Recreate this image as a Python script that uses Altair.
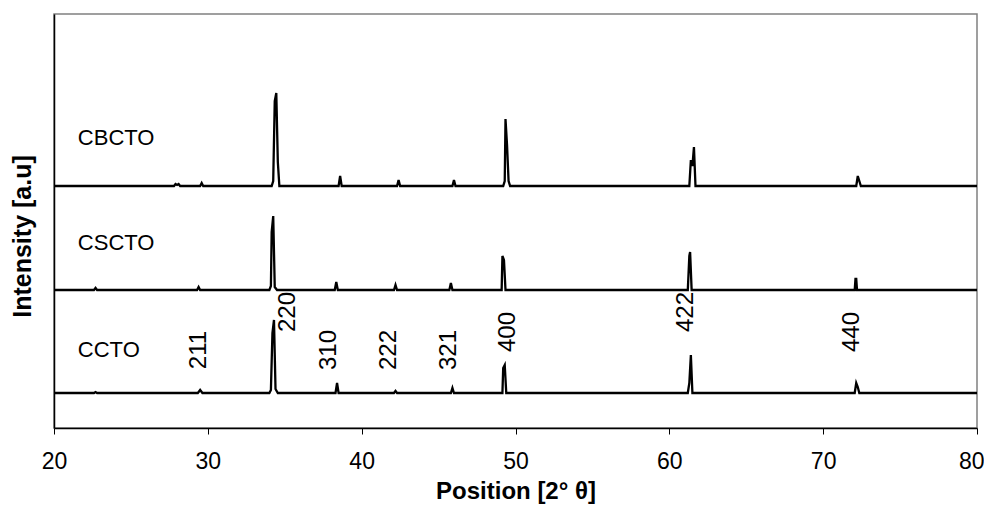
import altair as alt
import pandas as pd

# ---- data ----
series_names = ["CCTO", "CSCTO", "CBCTO"]

ccto_x = [20, 22.6, 22.7, 22.8, 29.35, 29.5, 29.65, 34.0, 34.1, 34.2, 34.3, 34.4, 34.55,
          38.3, 38.4, 38.5, 42.1, 42.2, 42.3, 45.8, 45.9, 46.0,
          49.15, 49.2, 49.3, 49.4, 61.2, 61.3, 61.4, 61.5, 72.05, 72.15, 72.25, 72.35, 80]
ccto_y = [0, 0, 1, 0, 0, 3, 0, 0, 3, 60, 73, 4, 0,
          0, 10, 0, 0, 2, 0, 0, 5, 0,
          0, 25, 28, 0, 0, 10, 38, 0, 0, 10, 6, 0, 0]

cscto_x = [20, 22.6, 22.7, 22.8, 29.3, 29.4, 29.5, 34.0, 34.1, 34.15, 34.25, 34.35, 34.5,
           38.25, 38.35, 38.45, 42.1, 42.2, 42.3, 45.7, 45.8, 45.9,
           49.1, 49.15, 49.25, 49.35, 61.2, 61.3, 61.35, 61.45, 72.05, 72.1, 72.15, 72.2, 80]
cscto_y = [0, 0, 2, 0, 0, 3, 0, 0, 4, 58, 74, 3, 0,
           0, 8, 0, 0, 5, 0, 0, 7, 0,
           0, 34, 30, 0, 0, 34, 38, 0, 0, 11, 11, 0, 0]

cbcto_x = [20, 27.8, 27.9, 28.0, 28.1, 28.2, 29.5, 29.6, 29.7, 34.15, 34.25, 34.35, 34.45, 34.55, 34.65,
           38.5, 38.6, 38.7, 42.3, 42.4, 42.5, 45.9, 46.0, 46.1,
           49.2, 49.3, 49.35, 49.45, 49.55, 49.65, 61.3, 61.4, 61.5, 61.6, 61.7,
           72.15, 72.25, 72.35, 72.45, 80]
cbcto_y = [0, 0, 2, 1, 2, 0, 0, 3, 0, 0, 5, 85, 93, 24, 0,
           0, 10, 0, 0, 6, 0, 0, 6, 0,
           0, 5, 67, 41, 5, 0, 0, 26, 20, 39, 0,
           0, 10, 5, 0, 0]

offsets = {"CCTO": 35, "CSCTO": 138, "CBCTO": 242}

label_x = [21.55, 21.55, 21.55]
label_y = [78, 185, 290]

hkl_labels = ["211", "220", "310", "222", "321", "400", "422", "440"]
hkl_x = [29.4, 35.2, 37.9, 41.8, 45.7, 49.5, 61.1, 71.9]
hkl_y = [78, 116, 78, 78, 78, 96, 116, 96]

x_ticks = [20, 30, 40, 50, 60, 70, 80]

# ---- build tables ----
rows = []
for name, xs, ys in [("CCTO", ccto_x, ccto_y), ("CSCTO", cscto_x, cscto_y), ("CBCTO", cbcto_x, cbcto_y)]:
    for i, (a, b) in enumerate(zip(xs, ys)):
        rows.append({"series": name, "x": a, "y": b + offsets[name], "i": i})
df = pd.DataFrame(rows)

lab_df = pd.DataFrame({"name": series_names, "x": label_x, "y": label_y})
hkl_df = pd.DataFrame({"t": hkl_labels, "x": hkl_x, "y": hkl_y})

FONT = "Liberation Sans"

xscale = alt.Scale(domain=[20, 80], nice=False, zero=False)
yscale = alt.Scale(domain=[0, 414], nice=False, zero=False)

lines = alt.Chart(df).mark_line(color="black", strokeWidth=2.3, interpolate="linear").encode(
    x=alt.X("x:Q", scale=xscale,
            axis=alt.Axis(title="Position [2° θ]", values=x_ticks, grid=False,
                          domainColor="black", domainWidth=1.5, tickColor="black",
                          tickSize=6, tickWidth=1, labelFontSize=23, labelFont=FONT,
                          labelColor="black", labelPadding=16, labelFlush=False,
                          labelAlign={"expr": "datum.value == 80 ? 'right' : 'center'"},
                          labelOffset={"expr": "datum.value == 80 ? 7 : 0"},
                          titleFont=FONT,
                          titleFontSize=24, titleFontWeight="bold", titleColor="black",
                          titlePadding=6)),
    y=alt.Y("y:Q", scale=yscale,
            axis=alt.Axis(title="Intensity [a.u]", labels=False, ticks=False, grid=False,
                          domainColor="black", domainWidth=1.5, titleFont=FONT,
                          titleFontSize=25, titleFontWeight="bold", titleColor="black",
                          titleAngle=270, titleX=-32, titleY=222, titleAlign="center",
                          titleBaseline="middle")),
    detail="series:N",
    order="i:Q",
)

names = alt.Chart(lab_df).mark_text(align="left", baseline="middle", fontSize=22,
                                     font=FONT, color="black").encode(
    x=alt.X("x:Q", scale=xscale), y=alt.Y("y:Q", scale=yscale), text="name:N")

hkl = alt.Chart(hkl_df).mark_text(angle=270, align="center", baseline="middle", fontSize=24,
                                   font=FONT, color="black").encode(
    x=alt.X("x:Q", scale=xscale), y=alt.Y("y:Q", scale=yscale), text="t:N")

chart = alt.layer(lines, names, hkl).properties(
    width=923, height=414,
    autosize=alt.AutoSizeParams(type="none"),
    padding={"left": 46, "top": 6, "right": 7, "bottom": 80},
    background="white",
).configure_view(stroke="#808080", strokeWidth=1.5)

chart.save("out.html", embed_options={"renderer": "svg", "actions": False})
